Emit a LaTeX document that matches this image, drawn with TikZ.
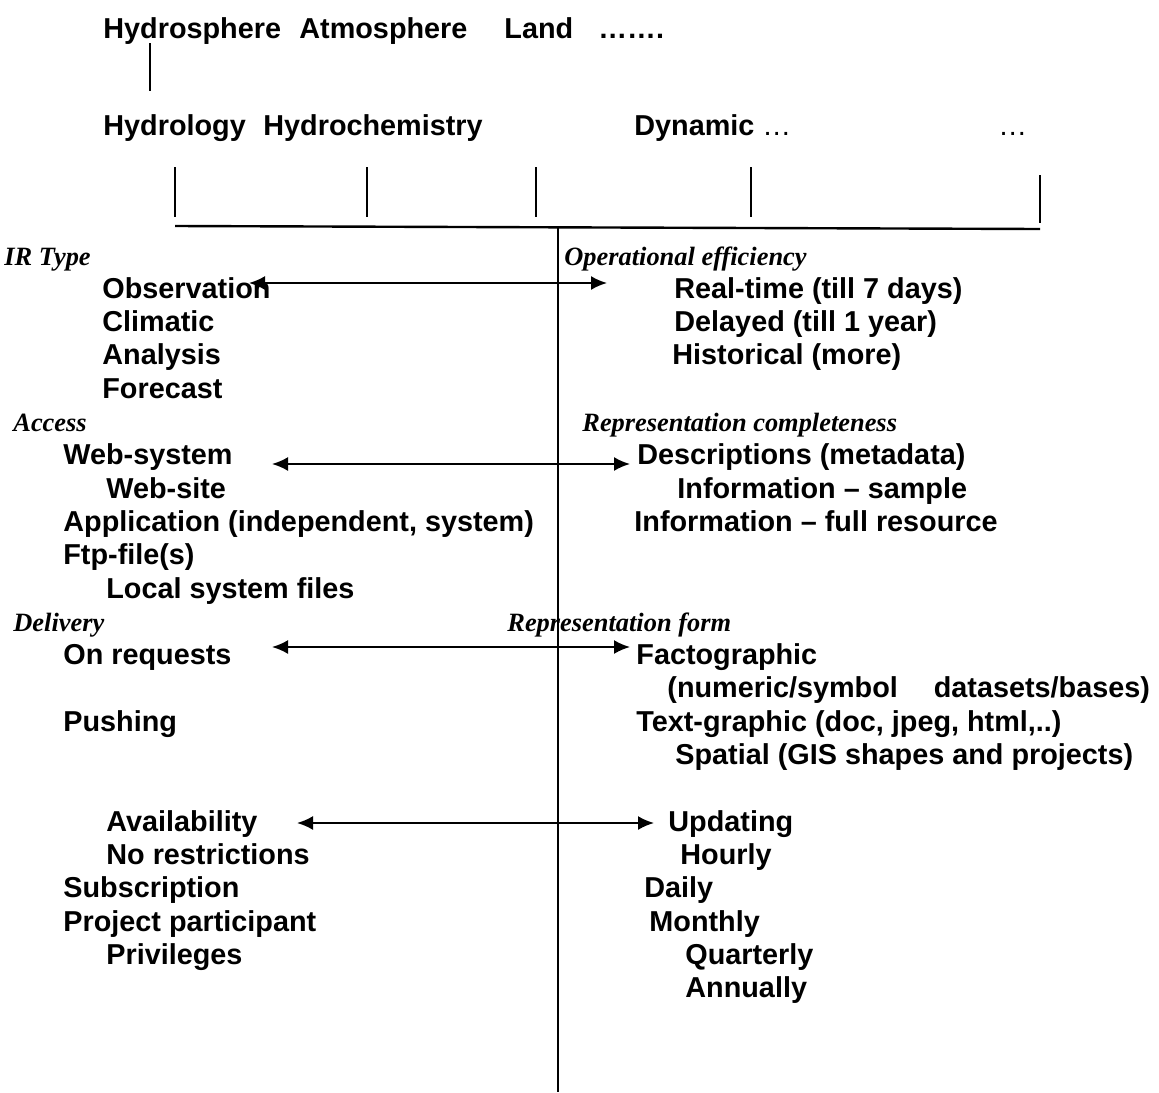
\documentclass[tikz,border=0pt]{standalone}
\usepackage{fontspec}
\setmainfont{Liberation Sans}
\newfontfamily\headserif{Liberation Serif}
\usetikzlibrary{arrows.meta}

\newcommand\itemfont{\fontsize{14.4}{17}\selectfont\bfseries}
\newcommand\headfont{\headserif\fontsize{13.2}{16}\selectfont\bfseries\itshape}

\begin{document}
\begin{tikzpicture}[x=0.5pt, y=-0.5pt,
    item/.style={anchor=base west, inner sep=0pt, font=\itemfont},
    head/.style={anchor=base west, inner sep=0pt, font=\headfont},
    link/.style={{Latex[length=8pt,width=7pt]}-{Latex[length=8pt,width=7pt]}, line width=1pt}]

    \useasboundingbox (0,0) rectangle (1159,1092);

    % Spheres and their disciplines
    \node[item] (hsph) at (103,38) {Hydrosphere};
    \node[item] (atm)  at (299,38) {Atmosphere};
    \node[item] (land) at (504,38) {Land};
    \node[item] (more) at (598,38) {…….};
    \draw[line width=0.75pt] (hsph.base west) ++(47,5) -- ++(0,48);

    \node[item] (hydro) at (103,135) {Hydrology};
    \node[item] (chem)  at (263,135) {Hydrochemistry};
    \node[item] (dyn)   at (634,135) {Dynamic {\mdseries…}};
    \node[item] (etc)   at (998,135) {\mdseries…};

    % Ticks down to the bar
    \foreach \x/\a/\b in {175/167/217, 367/167/217, 536/167/217, 751/167/217, 1040/175/223}
        \draw[line width=1pt] (\x,\a) -- (\x,\b);
    \draw[line width=1.2pt] (175,226) -- (1040,229);

    % Axis between the two sides
    \draw[line width=1pt] (558,228) -- (558,1092);

    % Group titles (baseline of line k at 265 + 33.3k)
    \foreach \x/\k/\txt [count=\i] in {4/0/IR Type, 13/5/Access, 13/11/Delivery,
            564/0/Operational efficiency, 582/5/Representation completeness,
            507/11/Representation form}
        \node[head] (H\i) at (\x,{265+33.3*\k}) {\txt};

    % Left side
    \foreach \x/\k/\txt [count=\i] in {102/1/Observation, 102/2/Climatic,
            102/3/Analysis, 102/4/Forecast,
            63/6/Web-system, 106/7/Web-site, 63/8/{Application (independent, system)},
            63/9/{Ftp-file(s)}, 106/10/Local system files,
            63/12/On requests, 63/14/Pushing,
            106/17/Availability, 106/18/No restrictions, 63/19/Subscription,
            63/20/Project participant, 106/21/Privileges}
        \node[item] (L\i) at (\x,{265+33.3*\k}) {\txt};

    % Right side
    \foreach \x/\k/\txt [count=\i] in {674/1/{Real-time (till 7 days)},
            674/2/{Delayed (till 1 year)}, 672/3/{Historical (more)},
            637/6/{Descriptions (metadata)}, 677/7/{Information – sample},
            634/8/{Information – full resource},
            636/12/Factographic, 667/13/{(numeric/symbol\hspace{18pt}datasets/bases)},
            636/14/{Text-graphic (doc, jpeg, html,..)},
            675/15/{Spatial (GIS shapes and projects)},
            668/17/Updating, 680/18/Hourly, 644/19/Daily, 649/20/Monthly,
            685/21/Quarterly, 685/22/Annually}
        \node[item] (R\i) at (\x,{265+33.3*\k}) {\txt};

    % Two-way links across the axis
    \coordinate (tl) at (249,283); \coordinate (tr) at (607,283);
    \coordinate (al) at (272,464); \coordinate (ar) at (630,464);
    \coordinate (dl) at (272,647); \coordinate (dr) at (630,647);
    \coordinate (vl) at (297,823); \coordinate (vr) at (654,823);
    \foreach \a/\b in {tl/tr, al/ar, dl/dr, vl/vr}
        \draw[link] (\a) -- (\b);

\end{tikzpicture}
\end{document}
